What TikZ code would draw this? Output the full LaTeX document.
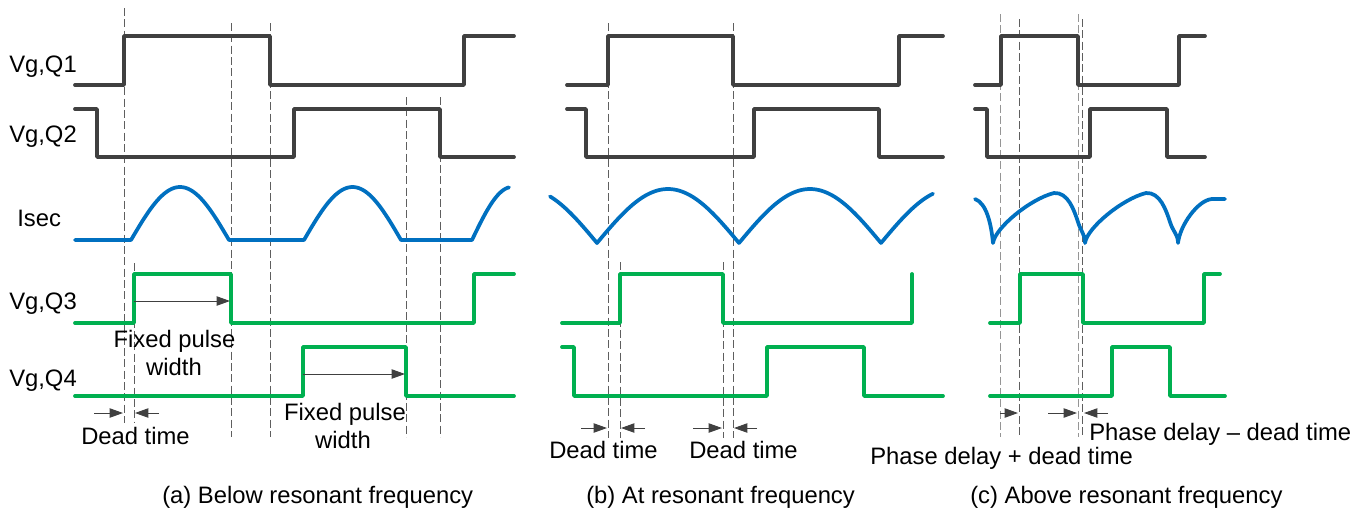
\documentclass[tikz,border=0pt]{standalone}
\usepackage{fontspec}
\setmainfont{Liberation Sans}
\usetikzlibrary{arrows.meta}

\definecolor{gatedark}{HTML}{404040}
\definecolor{gategreen}{HTML}{00B050}
\definecolor{isecblue}{HTML}{0070C0}
\definecolor{guidegray}{HTML}{5E5E5E}
\definecolor{guidelightgray}{HTML}{959595}
\definecolor{spangray}{HTML}{404040}

\begin{document}
\begin{tikzpicture}[x=0.75pt,y=-0.75pt,
  wave/.style={line width=2.8pt, line cap=round, line join=round},
  gatehi/.style={wave, draw=gatedark},
  gatelo/.style={wave, draw=gategreen},
  isec/.style={wave, draw=isecblue},
  guide/.style={draw=guidegray, line width=0.75pt, dash pattern=on 6pt off 2.5pt},
  guidelight/.style={guide, draw=guidelightgray},
  span/.style={draw=spangray, line width=0.75pt, -{Triangle[length=10pt,width=7pt]}},
  lbl/.style={font=\fontsize{17.85}{20}\selectfont, inner sep=0pt, anchor=base west},
  ctr/.style={lbl, anchor=base},
]
\useasboundingbox (0,0) rectangle (1366,512);

% ---------- guide lines ----------
% (a) below resonance
\draw[guide] (124,8) -- (124,423);
\draw[guide] (134,263) -- (134,423);
\draw[guide] (231,23) -- (231,437);
\draw[guide] (270,23) -- (270,437);
\draw[guide] (406,97) -- (406,437);
\draw[guide] (440,97) -- (440,437);
% (b) at resonance
\draw[guide] (608,23) -- (608,438);
\draw[guide] (620,262) -- (620,438);
\draw[guide] (723,262) -- (723,438);
\draw[guide] (733,23) -- (733,438);
% (c) above resonance
\draw[guidelight] (1000,14) -- (1000,437);
\draw[guidelight] (1078,14) -- (1078,437);
\draw[guide] (1019,19) -- (1019,437);
\draw[guide] (1082,19) -- (1082,437);

% ---------- (a) below resonant frequency ----------
\draw[gatehi] (75,85) -- (124,85) -- (124,36) -- (270,36) -- (270,85) -- (464,85) -- (464,36) -- (514,36);
\draw[gatehi] (75,109) -- (97,109) -- (97,157) -- (294,157) -- (294,109) -- (440,109) -- (440,157) -- (514,157);
\draw[isec] (75,240) -- (131,240)
  -- plot[domain=131:229,samples=50] (\x,{240-53*sin((\x-131)/98*180)})
  -- (304,240)
  -- plot[domain=304:401,samples=50] (\x,{240-53*sin((\x-304)/97*180)})
  -- (472,240)
  -- plot[domain=472:509,samples=20] (\x,{240-53*sin((\x-472)/80*180)});
\draw[gatelo] (75,323) -- (134,323) -- (134,274) -- (231,274) -- (231,323) -- (474,323) -- (474,274) -- (514,274);
\draw[gatelo] (75,396) -- (303,396) -- (303,347) -- (406,347) -- (406,396) -- (514,396);

\draw[span] (134,301) -- (230,301);
\draw[span] (303,374) -- (405,374);
\draw[span] (94,413) -- (123,413);
\draw[span] (159,413) -- (135,413);

\node[lbl] (q1a) at (9,72) {Vg,Q1};
\node[lbl] (q2a) at (9,142) {Vg,Q2};
\node[lbl] (isa) at (17,226) {Isec};
\node[lbl] (q3a) at (9,309) {Vg,Q3};
\node[lbl] (q4a) at (9,386) {Vg,Q4};
\node[ctr] (fpa1) at (174.5,347) {Fixed pulse};
\node[ctr] (fwa1) at (174,375) {width};
\node[ctr] (fpa2) at (345,420) {Fixed pulse};
\node[ctr] (fwa2) at (343,448) {width};
\node[ctr] (dta) at (135.5,444) {Dead time};
\node[lbl] (capa) at (162,503) {(a) Below resonant frequency};

% ---------- (b) at resonant frequency ----------
\draw[gatehi] (567,85) -- (608,85) -- (608,36) -- (733,36) -- (733,85) -- (899,85) -- (899,36) -- (943,36);
\draw[gatehi] (567,109) -- (586,109) -- (586,157) -- (754,157) -- (754,109) -- (879,109) -- (879,157) -- (943,157);
\draw[isec] plot[domain=550:597,samples=25] (\x,{243-54*abs(sin((\x-597)/142*180))})
  -- plot[domain=597:739,samples=60] (\x,{243-54*abs(sin((\x-597)/142*180))})
  -- plot[domain=739:881,samples=60] (\x,{243-54*abs(sin((\x-739)/142*180))})
  -- plot[domain=881:933,samples=25] (\x,{243-54*abs(sin((\x-881)/142*180))});
\draw[gatelo] (562,323) -- (620,323) -- (620,274) -- (723,274) -- (723,323) -- (912,323) -- (912,274);
\draw[gatelo] (562,347) -- (574,347) -- (574,396) -- (767,396) -- (767,347) -- (864,347) -- (864,396) -- (943,396);

\draw[span] (581,428) -- (607,428);
\draw[span] (645,428) -- (621,428);
\draw[span] (693,428) -- (722,428);
\draw[span] (757,428) -- (734,428);

\node[ctr] (dtb1) at (603.5,458) {Dead time};
\node[ctr] (dtb2) at (743.5,458) {Dead time};
\node[lbl] (capb) at (586,503) {(b) At resonant frequency};

% ---------- (c) above resonant frequency ----------
\draw[gatehi] (975,85) -- (1001,85) -- (1001,36) -- (1078,36) -- (1078,85) -- (1179,85) -- (1179,36) -- (1205,36);
\draw[gatehi] (975,109) -- (987,109) -- (987,157) -- (1090,157) -- (1090,109) -- (1167,109) -- (1167,157) -- (1205,157);
\draw[isec] (975,199) .. controls (986,203) and (991,222) .. (993,243)
  .. controls (995,228) and (1030,199) .. (1054,193)
  .. controls (1068,192) and (1074,210) .. (1078,222)
  .. controls (1081,232) and (1085,234) .. (1085,243)
  .. controls (1087,228) and (1122,199) .. (1146,193)
  .. controls (1160,192) and (1166,210) .. (1170,222)
  .. controls (1173,232) and (1178,234) .. (1178,243)
  .. controls (1180,225) and (1198,200) .. (1212,199) -- (1225,199);
\draw[gatelo] (990,323) -- (1020,323) -- (1020,274) -- (1083,274) -- (1083,323) -- (1204,323) -- (1204,274) -- (1220,274);
\draw[gatelo] (990,396) -- (1112,396) -- (1112,347) -- (1170,347) -- (1170,396) -- (1225,396);

\draw[span] (1000,413) -- (1018,413);
\draw[span] (1048,413) -- (1077,413);
\draw[span] (1108,413) -- (1084,413);

\node[lbl] (pdm) at (1089,440) {Phase delay \textendash{} dead time};
\node[lbl] (pdp) at (870,464) {Phase delay + dead time};
\node[lbl] (capc) at (970,503) {(c) Above resonant frequency};
\end{tikzpicture}
\end{document}
